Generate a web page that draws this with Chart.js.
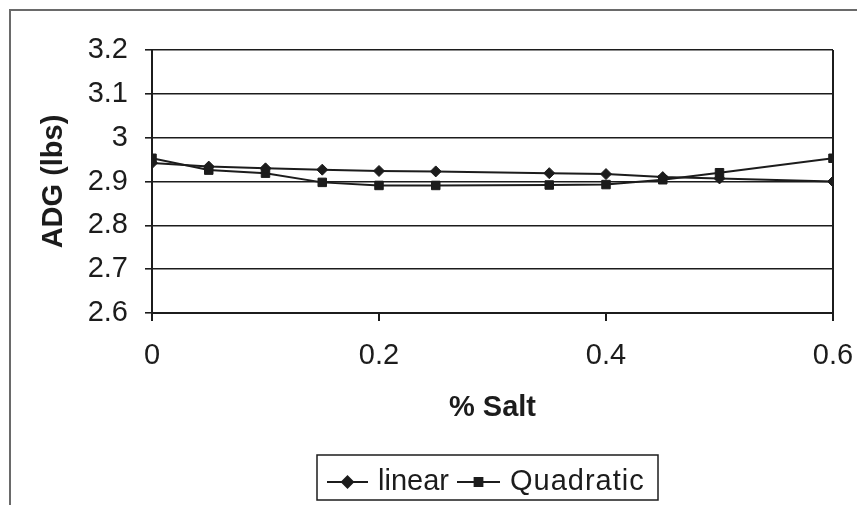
<!DOCTYPE html>
<html>
<head>
<meta charset="utf-8">
<script src="https://cdn.jsdelivr.net/npm/chart.js@4/dist/chart.umd.min.js"></script>
<style>
  html, body { margin: 0; padding: 0; background: #ffffff; }
  #wrap { width: 857px; height: 505px; position: relative; }
</style>
</head>
<body>
<div id="wrap"><canvas id="c" width="857" height="505"></canvas></div>
<script>
// Salt level in the ration (%) and average daily gain (lbs) per fitted model
const saltPct      = [0, 0.05, 0.1, 0.15, 0.2, 0.25, 0.35, 0.4, 0.45, 0.5, 0.6];
const linearAdg    = [2.942, 2.934, 2.930, 2.927, 2.924, 2.923, 2.919, 2.917, 2.910, 2.907, 2.900];
const quadraticAdg = [2.953, 2.926, 2.919, 2.898, 2.891, 2.891, 2.892, 2.893, 2.904, 2.920, 2.953];
const seriesNames  = ['linear', 'Quadratic'];

// Axis ticks
const xTicks = [0, 0.2, 0.4, 0.6];
const xTickLabels = ['0', '0.2', '0.4', '0.6'];
const yTicks = [2.6, 2.7, 2.8, 2.9, 3.0, 3.1, 3.2];
const yTickLabels = ['2.6', '2.7', '2.8', '2.9', '3', '3.1', '3.2'];

const xTitle = '% Salt';
const yTitle = 'ADG (lbs)';

const FONT = '"Liberation Sans", Arial, Helvetica, sans-serif';
const INK = '#1c1c1c';
const TICK_SIZE = 29;

const toPoints = (ys) => saltPct.map((x, i) => ({ x: x, y: ys[i] }));

// Outer chart frame (left and top edges fall inside the canvas)
const frame = {
  id: 'frame',
  beforeDraw(chart) {
    const ctx = chart.ctx;
    ctx.save();
    ctx.strokeStyle = '#6a6a6a';
    ctx.lineWidth = 2;
    ctx.strokeRect(10, 10, 900, 600);
    ctx.restore();
  }
};

// Axis titles
const axisTitles = {
  id: 'axisTitles',
  afterDraw(chart) {
    const ctx = chart.ctx;
    const a = chart.chartArea;
    ctx.save();
    ctx.fillStyle = INK;
    ctx.font = 'bold 29px ' + FONT;
    ctx.textAlign = 'center';
    ctx.textBaseline = 'middle';
    ctx.fillText(xTitle, (a.left + a.right) / 2, 408);
    ctx.translate(54, (a.top + a.bottom) / 2);
    ctx.rotate(-Math.PI / 2);
    ctx.fillText(yTitle, 0, 0);
    ctx.restore();
  }
};

// Boxed legend with line + marker samples
const boxedLegend = {
  id: 'boxedLegend',
  afterDraw(chart) {
    const ctx = chart.ctx;
    ctx.save();
    ctx.strokeStyle = INK;
    ctx.lineWidth = 1.5;
    ctx.strokeRect(317, 455, 341, 45);
    const cy = 482;
    const items = [
      { x0: 327, x1: 368, tx: 378, style: 'rectRot', r: 5.5, spacing: '0px' },
      { x0: 457, x1: 500, tx: 510, style: 'rect', r: 5.5, spacing: '1px' }
    ];
    items.forEach((it, i) => {
      ctx.strokeStyle = INK;
      ctx.lineWidth = 2;
      ctx.beginPath();
      ctx.moveTo(it.x0, cy);
      ctx.lineTo(it.x1, cy);
      ctx.stroke();
      ctx.fillStyle = INK;
      Chart.helpers.drawPoint(ctx, { pointStyle: it.style, radius: it.r, borderWidth: 1 }, (it.x0 + it.x1) / 2, cy);
      ctx.fillStyle = INK;
      ctx.font = TICK_SIZE + 'px ' + FONT;
      if ('letterSpacing' in ctx) ctx.letterSpacing = it.spacing;
      ctx.textAlign = 'left';
      ctx.textBaseline = 'alphabetic';
      ctx.fillText(seriesNames[i], it.tx, 490);
    });
    ctx.restore();
  }
};

new Chart(document.getElementById('c'), {
  type: 'line',
  data: {
    datasets: [
      {
        label: seriesNames[0],
        data: toPoints(linearAdg),
        borderColor: INK,
        backgroundColor: INK,
        borderWidth: 2,
        pointStyle: 'rectRot',
        pointRadius: 5.5,
        pointBorderWidth: 1,
        tension: 0
      },
      {
        label: seriesNames[1],
        data: toPoints(quadraticAdg),
        borderColor: INK,
        backgroundColor: INK,
        borderWidth: 2,
        pointStyle: 'rect',
        pointRadius: 6,
        pointBorderWidth: 1,
        tension: 0
      }
    ]
  },
  options: {
    responsive: false,
    animation: false,
    devicePixelRatio: 1,
    layout: { padding: { left: 0, right: 24, top: 50, bottom: 0 } },
    plugins: {
      legend: { display: false },
      tooltip: { enabled: false },
      title: { display: false }
    },
    scales: {
      x: {
        type: 'linear',
        min: 0,
        max: 0.6,
        afterBuildTicks(scale) { scale.ticks = xTicks.map(v => ({ value: v })); },
        afterFit(scale) {
          scale.height = 192;
          scale.paddingLeft = 0;
          scale.paddingRight = 0;
        },
        ticks: {
          color: INK,
          font: { family: FONT, size: TICK_SIZE },
          padding: 18,
          maxRotation: 0,
          autoSkip: false,
          callback: (v, i) => xTickLabels[i]
        },
        grid: {
          drawOnChartArea: true,
          color: (c) => (c.tick && Math.abs(c.tick.value - 0.6) < 1e-9) ? INK : 'rgba(0,0,0,0)',
          tickColor: INK,
          tickLength: 8,
          lineWidth: 2
        },
        border: { display: true, color: INK, width: 2 }
      },
      y: {
        type: 'linear',
        min: 2.6,
        max: 3.2,
        afterBuildTicks(scale) { scale.ticks = yTicks.map(v => ({ value: v })); },
        afterFit(scale) {
          scale.width = 152;
          scale.paddingTop = 0;
          scale.paddingBottom = 0;
        },
        ticks: {
          color: INK,
          font: { family: FONT, size: TICK_SIZE },
          padding: 17,
          autoSkip: false,
          callback: (v, i) => yTickLabels[i]
        },
        grid: {
          color: INK,
          tickColor: INK,
          tickLength: 7,
          lineWidth: 1.6
        },
        border: { display: true, color: INK, width: 2 }
      }
    }
  },
  plugins: [frame, axisTitles, boxedLegend]
});
</script>
</body>
</html>
